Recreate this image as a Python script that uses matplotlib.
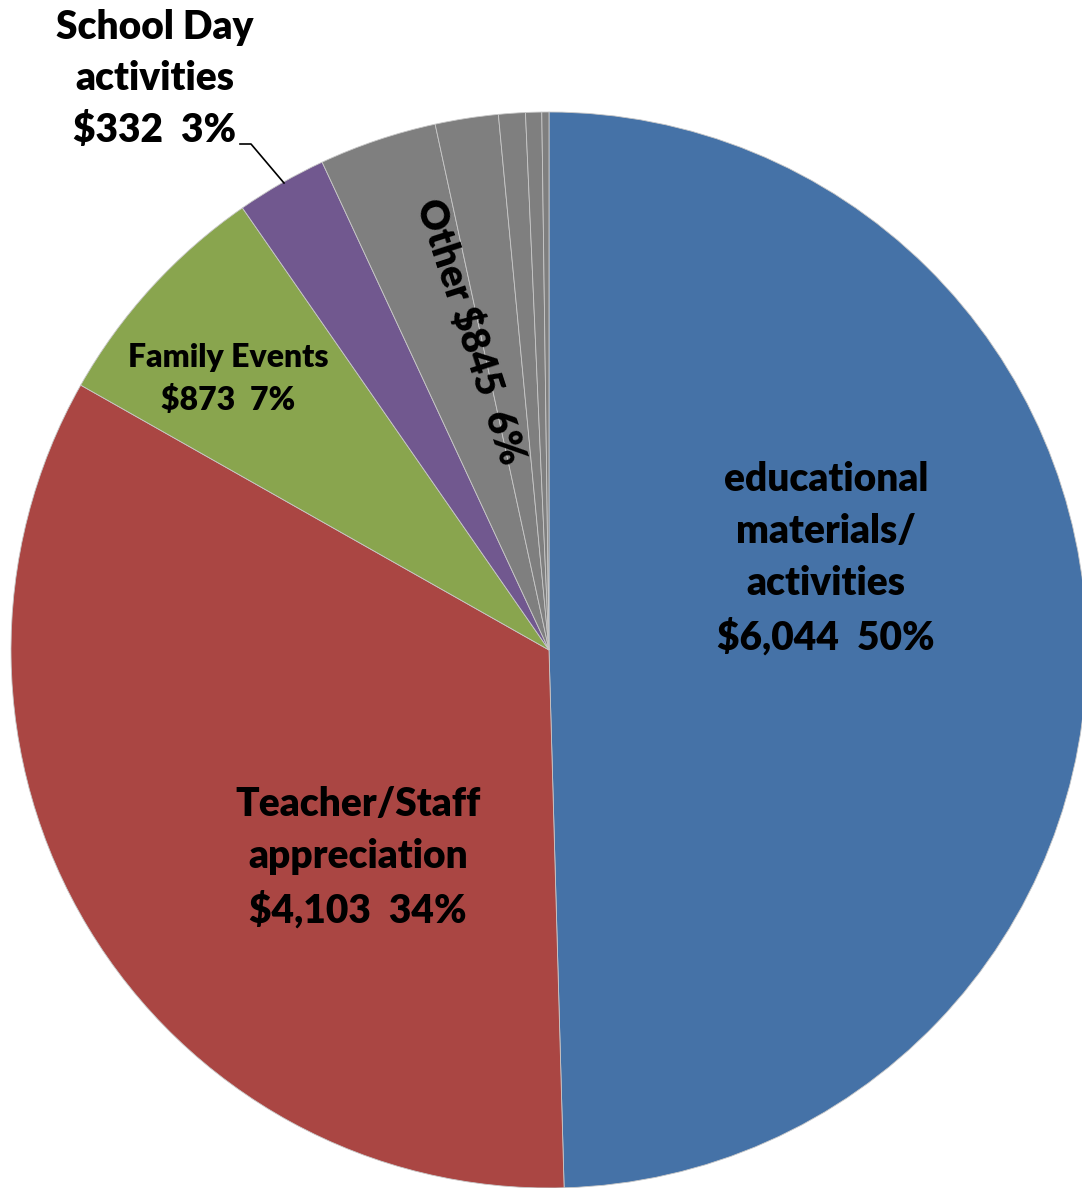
import matplotlib
matplotlib.use("Agg")
import matplotlib.pyplot as plt

# Data (clockwise from 12 o'clock)
categories = ["educational materials/ activities", "Teacher/Staff appreciation",
              "Family Events", "School Day activities",
              "Other 1", "Other 2", "Other 3", "Other 4", "Other 5"]
values = [6044, 4103, 873, 332, 431, 231, 98, 59, 26]
colors = ["#4572A7", "#AA4643", "#89A54E", "#71588F",
          "#7F7F7F", "#7F7F7F", "#7F7F7F", "#7F7F7F", "#7F7F7F"]
other_total = 845

W, H = 1082, 1188
fig = plt.figure(figsize=(W / 100, H / 100), dpi=100)
ax = fig.add_axes([0, 0, 1, 1])
ax.set_xlim(0, W)
ax.set_ylim(0, H)
ax.set_aspect("equal")

cx, cy, R = 549, H - 650, 538
ax.pie(values, colors=colors, startangle=90, counterclock=False,
       center=(cx, cy), radius=R, frame=True,
       wedgeprops=dict(edgecolor="#c8c8c8", linewidth=0.6))
ax.set_xlim(0, W)
ax.set_ylim(0, H)
ax.axis("off")

fam = ["Lato", "DejaVu Sans"]
big = 28
wt = "heavy"
ax.text(826, H - 559, "educational\nmaterials/\nactivities\n$6,044  50%",
        ha="center", va="center", fontsize=big, fontweight=wt,
        family=fam, linespacing=1.5)
ax.text(358, H - 858, "Teacher/Staff\nappreciation\n$4,103  34%",
        ha="center", va="center", fontsize=big, fontweight=wt,
        family=fam, linespacing=1.5)
ax.text(228, H - 379, "Family Events\n$873  7%",
        ha="center", va="center", fontsize=23, fontweight=wt,
        family=fam, linespacing=1.5)
ax.text(155, H - 79, "School Day\nactivities\n$332  3%",
        ha="center", va="center", fontsize=big, fontweight=wt,
        family=fam, linespacing=1.5)
ax.plot([240, 251, 284], [H - 144, H - 144, H - 183], color="black", lw=1.2)
ax.text(470, H - 332, "Other $%d  6%%" % other_total,
        ha="center", va="center", fontsize=big, fontweight=wt,
        family=fam, rotation=-72, rotation_mode="anchor")

fig.savefig("out.png", dpi=100)
